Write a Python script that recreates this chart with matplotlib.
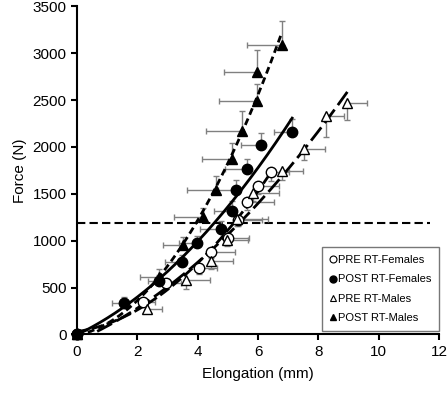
import numpy as np
import matplotlib
matplotlib.use("Agg")
import matplotlib.pyplot as plt
from matplotlib.lines import Line2D

plt.rcParams['font.family'] = ['Liberation Sans', 'DejaVu Sans']

# ---- data ----
pre_f_x = [0, 2.20, 2.95, 4.05, 4.43, 5.01, 5.34, 5.62, 6.00, 6.42]
pre_f_y = [0, 350, 550, 705, 880, 1027, 1222, 1410, 1580, 1731]
pre_f_xerr = [0, 0.4, 0.5, 0.6, 0.8, 0.7, 0.8, 0.9, 0.7, 0.6]
pre_f_yerr = [0, 40, 50, 60, 60, 70, 70, 80, 80, 90]

post_f_x = [0, 1.57, 2.70, 3.48, 3.98, 4.78, 5.15, 5.26, 5.62, 6.10, 7.13]
post_f_y = [0, 340, 570, 774, 973, 1123, 1321, 1542, 1763, 2025, 2161]
post_f_xerr = [0, 0.4, 0.35, 0.55, 0.6, 0.7, 0.6, 0.6, 0.7, 0.68, 0.6]
post_f_yerr = [0, 60, 60, 70, 80, 90, 100, 105, 105, 125, 140]

pre_m_x = [0, 2.31, 3.61, 4.43, 4.98, 5.29, 5.82, 6.80, 7.52, 8.25, 8.96]
pre_m_y = [0, 275, 585, 780, 1010, 1235, 1510, 1745, 1976, 2325, 2467]
pre_m_xerr = [0, 0.5, 0.8, 0.73, 0.7, 1.05, 0.86, 0.7, 0.7, 0.6, 0.65]
pre_m_yerr = [0, 50, 100, 80, 70, 80, 90, 100, 115, 220, 180]

post_m_x = [0, 2.70, 3.50, 4.16, 4.60, 5.13, 5.46, 5.97, 5.97, 6.78]
post_m_y = [0, 617, 955, 1250, 1540, 1870, 2175, 2485, 2795, 3090]
post_m_xerr = [0, 0.6, 0.65, 0.94, 0.95, 1.0, 1.17, 1.28, 1.1, 1.14]
post_m_yerr = [0, 80, 80, 100, 145, 170, 210, 185, 240, 255]

threshold = 1188
labels = ["PRE RT-Females", "POST RT-Females", "PRE RT-Males", "POST RT-Males"]

fig = plt.figure(figsize=(4.48, 3.93), dpi=100)
ax = fig.add_axes([0.172, 0.149, 0.808, 0.835])

ecol = '#808080'

def series(x, y, xe, ye, marker, face, side, ls):
    x = np.array(x); y = np.array(y); xe = np.array(xe); ye = np.array(ye)
    z = np.zeros_like(xe)
    if side == 'left':
        xerr = [xe, z]; yerr = [z, ye]
    else:
        xerr = [z, xe]; yerr = [ye, z]
    ax.errorbar(x, y, xerr=xerr, yerr=yerr, fmt='none', ecolor=ecol,
                elinewidth=1, capsize=2.5, capthick=1, zorder=2)
    c = np.polyfit(x, y, 2)
    xs = np.linspace(0, x.max(), 200)
    ax.plot(xs, np.polyval(c, xs), color='black', lw=2, linestyle=ls, zorder=3)
    ax.plot(x, y, linestyle='none', marker=marker, ms=7.5, mfc=face, mec='black',
            mew=1, zorder=4, clip_on=False)

series(pre_f_x, pre_f_y, pre_f_xerr, pre_f_yerr, 'o', 'white', 'right', (0, (4, 1.5)))
series(post_f_x, post_f_y, post_f_xerr, post_f_yerr, 'o', 'black', 'left', '-')
series(pre_m_x, pre_m_y, pre_m_xerr, pre_m_yerr, '^', 'white', 'right', (0, (6, 2)))
series(post_m_x, post_m_y, post_m_xerr, post_m_yerr, '^', 'black', 'left', (0, (2.5, 1.5)))

ax.plot([0, 11.7], [threshold, threshold], color='black', lw=1.5,
        linestyle=(0, (4, 2)), zorder=1)

ax.set_xlim(0, 12)
ax.set_ylim(0, 3500)
ax.set_xticks(np.arange(0, 13, 2))
ax.set_yticks(np.arange(0, 3501, 500))
for s in ['top', 'right']:
    ax.spines[s].set_visible(False)
for s in ['left', 'bottom']:
    ax.spines[s].set_linewidth(1.5)
ax.tick_params(direction='out', length=4, width=1.5, labelsize=11, colors='black')
ax.set_xlabel("Elongation (mm)", fontsize=11, labelpad=6)
ax.set_ylabel("Force (N)", fontsize=11, labelpad=4)

handles = [
    Line2D([], [], linestyle='none', marker='o', ms=5, mfc='white', mec='black', mew=0.8),
    Line2D([], [], linestyle='none', marker='o', ms=5, mfc='black', mec='black'),
    Line2D([], [], linestyle='none', marker='^', ms=5, mfc='white', mec='black', mew=0.8),
    Line2D([], [], linestyle='none', marker='^', ms=5, mfc='black', mec='black'),
]
leg = ax.legend(handles, labels, loc='lower right', bbox_to_anchor=(1.0, 0.01),
                fontsize=8, handlelength=0.6, handletextpad=0.1, labelspacing=0.85,
                frameon=True, fancybox=False, borderpad=0.7, borderaxespad=0)
leg.get_frame().set_edgecolor('#555555')
leg.get_frame().set_linewidth(1)

fig.savefig("out.png", dpi=100)
